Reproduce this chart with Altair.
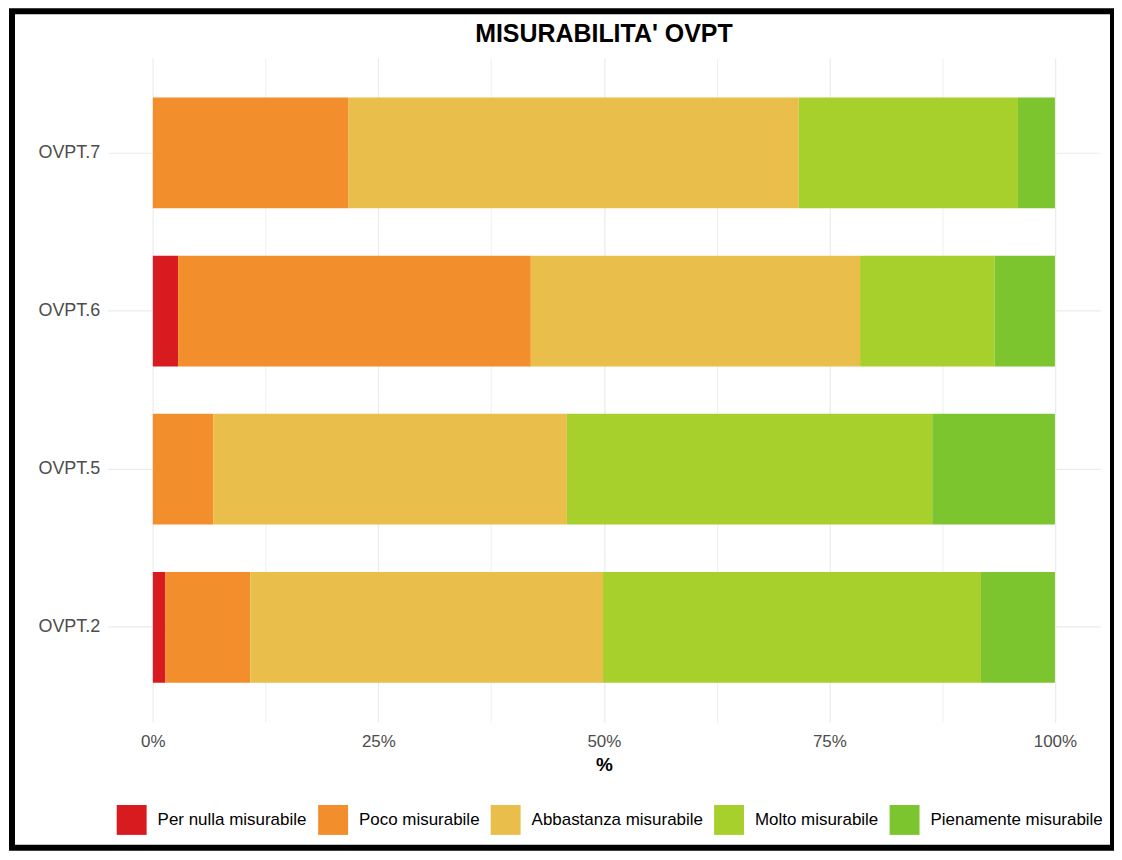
import altair as alt
import pandas as pd

# ---- data ----
items = ["OVPT.7", "OVPT.6", "OVPT.5", "OVPT.2"]
levels = ["Per nulla misurabile", "Poco misurabile", "Abbastanza misurabile",
          "Molto misurabile", "Pienamente misurabile"]
colors = ["#D81B1F", "#F28E2C", "#EABE4A", "#A8D02C", "#7CC52E"]

per_nulla = [0.0, 2.8, 0.0, 1.4]
poco = [21.7, 39.1, 6.7, 9.4]
abbastanza = [49.9, 36.5, 39.2, 39.1]
molto = [24.3, 14.9, 40.5, 41.9]
pienamente = [4.1, 6.7, 13.6, 8.2]

x_ticks = [0, 0.125, 0.25, 0.375, 0.5, 0.625, 0.75, 0.875, 1.0]

series = [per_nulla, poco, abbastanza, molto, pienamente]
rows = []
for li, (lev, vals) in enumerate(zip(levels, series)):
    for it, v in zip(items, vals):
        rows.append({"item": it, "level": lev, "idx": li, "value": v})
df = pd.DataFrame(rows)

major_test = "abs(datum.value*4 - round(datum.value*4)) < 0.001"

bars = alt.Chart(df).mark_bar().encode(
    y=alt.Y("item:N", sort=items, title=None,
            scale=alt.Scale(paddingInner=0.3, paddingOuter=0.25),
            axis=alt.Axis(domain=False, ticks=False, grid=True, bandPosition=0.5,
                          gridColor="#EBEBEB", gridWidth=1.2,
                          labelFontSize=18, labelColor="#4D4D4D", labelPadding=8,
                          labelFont="Liberation Sans")),
    x=alt.X("value:Q", stack="normalize", title="%",
            scale=alt.Scale(domain=[-0.05, 1.05], nice=False, zero=False),
            axis=alt.Axis(values=x_ticks, domain=False, ticks=False, grid=True,
                          gridColor="#EBEBEB",
                          gridWidth={"condition": {"test": major_test, "value": 1.2}, "value": 0.8},
                          labelExpr=f"({major_test}) ? format(datum.value, '.0%') : ''",
                          labelFontSize=17, labelColor="#4D4D4D", labelPadding=11,
                          labelFont="Liberation Sans",
                          titleFontSize=19, titleFont="Liberation Sans", titleFontWeight="bold",
                          titleColor="black", titlePadding=6)),
    color=alt.Color("level:N", sort=levels,
                    scale=alt.Scale(domain=levels, range=colors),
                    legend=alt.Legend(title=None, orient="none", direction="horizontal",
                                      legendX=9, legendY=749, symbolType="square",
                                      symbolSize=900, symbolStrokeWidth=0,
                                      labelFontSize=17, labelColor="black",
                                      labelFont="Liberation Sans", labelOffset=11,
                                      labelLimit=400, columnPadding=11, padding=0)),
    order=alt.Order("idx:Q"),
)

frame = alt.Chart(pd.DataFrame({"a": [0]})).mark_rect(
    filled=False, stroke="black", strokeWidth=6
).encode(
    x=alt.value(-96), x2=alt.value(1008), y=alt.value(-47), y2=alt.value(792)
)

chart = alt.layer(bars, frame).properties(
    width=995, height=666,
    autosize=alt.AutoSizeParams(type="none"),
    padding={"left": 100, "top": 49, "right": 14, "bottom": 129},
    title=alt.Title("MISURABILITA' OVPT", fontSize=25, font="Liberation Sans",
                    fontWeight="bold", color="black", anchor="middle", frame="group",
                    baseline="alphabetic", offset=14, dy=73),
).configure_view(strokeWidth=0, stroke="transparent")

chart.save("out.html", embed_options={"renderer": "svg", "actions": False})
